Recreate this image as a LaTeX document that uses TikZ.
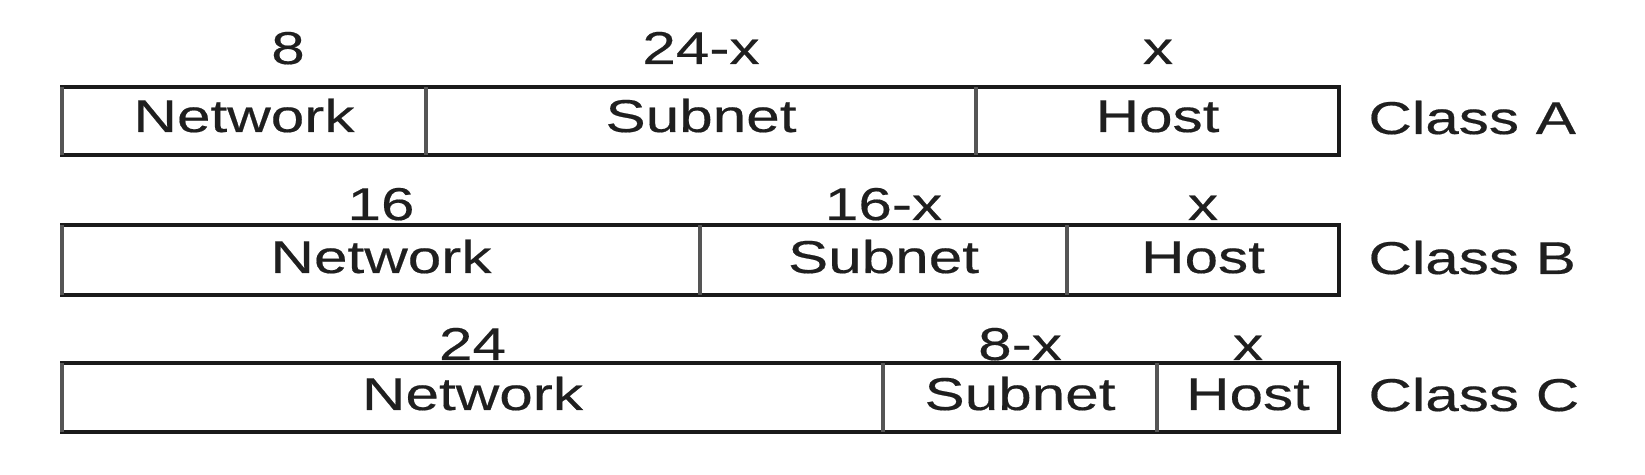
\documentclass[tikz,border=0pt]{standalone}
\usepackage{fontspec}
\setmainfont{Liberation Sans}[FakeStretch=1.31,FakeBold=0.4]
\usetikzlibrary{fit}
\definecolor{ink}{HTML}{1F1F1F}
\definecolor{edgec}{HTML}{1A1A1A}
\definecolor{divc}{HTML}{555555}
\begin{document}
\begin{tikzpicture}[x=0.5pt,y=-0.5pt,
  cell/.style={draw=edgec, line width=1.9pt, inner sep=0pt, outer sep=0pt},
  divline/.style={draw=divc, line width=1.6pt},
  lbl/.style={anchor=base, inner sep=0pt, text=ink, font=\fontsize{23pt}{27pt}\selectfont},
  cls/.style={lbl, anchor=base west}]
\useasboundingbox (0,0) rectangle (1645,475);
% ---- Class A ----
\node[cell, fit={(62,87) (426,155)}] (na) {};
\node[cell, fit={(426,87) (976,155)}] (sa) {};
\node[cell, fit={(976,87) (1339,155)}] (ha) {};
\draw[divline] (na.north west) -- (na.south west);
\draw[divline] (na.north east) -- (na.south east);
\draw[divline] (sa.north east) -- (sa.south east);
\node[lbl] (a8) at (288,64) {8};
\node[lbl] (a24x) at (701,64) {24-x};
\node[lbl] (ax) at (1158,64) {x};
\node[lbl] (anet) at (na.center |- 0,132) {Network};
\node[lbl] (asub) at (sa.center |- 0,132) {Subnet};
\node[lbl] (ahost) at (ha.center |- 0,132) {Host};
\node[cls] (acls) at (1368,134) {Class A};
% ---- Class B ----
\node[cell, fit={(62,225) (700,295)}] (nb) {};
\node[cell, fit={(700,225) (1067,295)}] (sb) {};
\node[cell, fit={(1067,225) (1339,295)}] (hb) {};
\draw[divline] (nb.north west) -- (nb.south west);
\draw[divline] (nb.north east) -- (nb.south east);
\draw[divline] (sb.north east) -- (sb.south east);
\node[lbl] (b16) at (nb.center |- 0,220) {16};
\node[lbl] (b16x) at (sb.center |- 0,220) {16-x};
\node[lbl] (bx) at (hb.center |- 0,220) {x};
\node[lbl] (bnet) at (nb.center |- 0,273) {Network};
\node[lbl] (bsub) at (sb.center |- 0,273) {Subnet};
\node[lbl] (bhost) at (hb.center |- 0,273) {Host};
\node[cls] (bcls) at (1368,274) {Class B};
% ---- Class C ----
\node[cell, fit={(62,363) (883,432)}] (nc) {};
\node[cell, fit={(883,363) (1157,432)}] (sc) {};
\node[cell, fit={(1157,363) (1339,432)}] (hc) {};
\draw[divline] (nc.north west) -- (nc.south west);
\draw[divline] (nc.north east) -- (nc.south east);
\draw[divline] (sc.north east) -- (sc.south east);
\node[lbl] (c24) at (nc.center |- 0,360) {24};
\node[lbl] (c8x) at (sc.center |- 0,360) {8-x};
\node[lbl] (cx) at (hc.center |- 0,360) {x};
\node[lbl] (cnet) at (nc.center |- 0,410) {Network};
\node[lbl] (csub) at (sc.center |- 0,410) {Subnet};
\node[lbl] (chost) at (hc.center |- 0,410) {Host};
\node[cls] (ccls) at (1368,411) {Class C};
\end{tikzpicture}
\end{document}
